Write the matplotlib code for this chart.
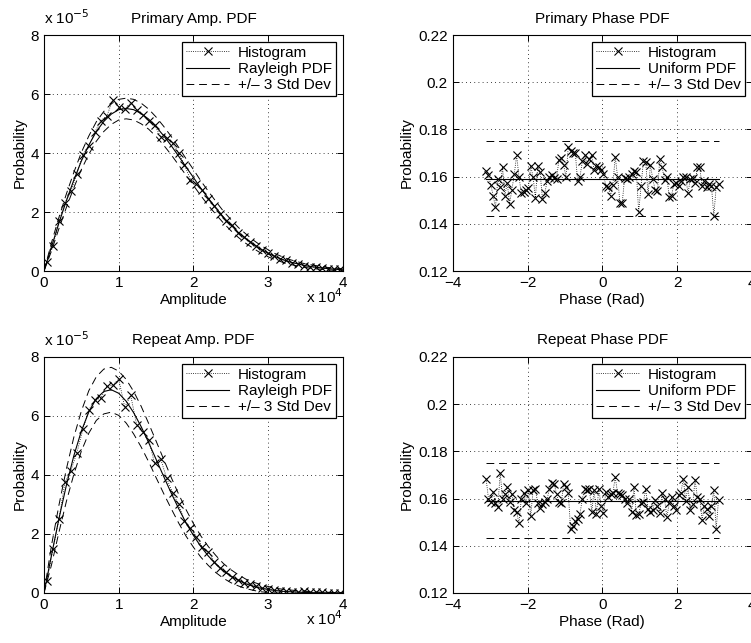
import matplotlib
matplotlib.use("Agg")
import matplotlib.pyplot as plt
import numpy as np

plt.rcParams['font.family'] = ['Liberation Sans', 'DejaVu Sans']
plt.rcParams['font.size'] = 10

# amplitude axis (units of 1e4), curve sample points
amp_x = [i / 10 for i in range(41)]
# histogram bin centres (units of 1e4)
amp_bins = [0.04 + 0.08 * i for i in range(50)]

# Primary amplitude (units of 1e-5)
prim_rayleigh = [0, 0.82, 1.63, 2.39, 3.09, 3.73, 4.27, 4.73, 5.07, 5.32, 5.47,
                 5.51, 5.47, 5.34, 5.15, 4.89, 4.59, 4.26, 3.90, 3.53, 3.17,
                 2.80, 2.46, 2.14, 1.83, 1.56, 1.31, 1.10, 0.91, 0.74, 0.60,
                 0.48, 0.38, 0.30, 0.24, 0.18, 0.14, 0.11, 0.08, 0.06, 0.04]
prim_band = [0, 0.14, 0.19, 0.23, 0.26, 0.29, 0.31, 0.33, 0.34, 0.35, 0.35,
             0.35, 0.35, 0.35, 0.34, 0.33, 0.32, 0.31, 0.30, 0.28, 0.27,
             0.25, 0.24, 0.22, 0.20, 0.19, 0.17, 0.16, 0.14, 0.13, 0.12,
             0.10, 0.09, 0.08, 0.07, 0.06, 0.06, 0.05, 0.04, 0.04, 0.03]
prim_hist = [0.30, 0.85, 1.70, 2.30, 2.70, 3.30, 3.95, 4.25, 4.70, 5.10,
             5.25, 5.80, 5.55, 5.50, 5.70, 5.45, 5.30, 5.10, 4.95, 4.55,
             4.50, 4.35, 4.00, 3.60, 3.10, 2.95, 2.75, 2.45, 2.20, 1.95,
             1.70, 1.55, 1.30, 1.15, 1.00, 0.85, 0.70, 0.60, 0.52, 0.42,
             0.36, 0.28, 0.25, 0.18, 0.15, 0.12, 0.10, 0.08, 0.06, 0.06]

# Repeat amplitude (units of 1e-5)
rep_rayleigh = [0, 1.28, 2.52, 3.66, 4.66, 5.49, 6.14, 6.59, 6.83, 6.89, 6.77,
                6.50, 6.11, 5.64, 5.10, 4.53, 3.96, 3.40, 2.87, 2.38, 1.95,
                1.57, 1.25, 0.98, 0.75, 0.57, 0.43, 0.31, 0.23, 0.16, 0.12,
                0.08, 0.055, 0.04, 0.025, 0.016, 0.01, 0.006, 0.004, 0.002, 0.001]
rep_band = [0, 0.33, 0.46, 0.55, 0.63, 0.68, 0.72, 0.74, 0.76, 0.76, 0.75,
            0.74, 0.72, 0.69, 0.65, 0.62, 0.58, 0.53, 0.49, 0.45, 0.40,
            0.36, 0.32, 0.29, 0.25, 0.22, 0.19, 0.16, 0.14, 0.12, 0.10,
            0.08, 0.07, 0.06, 0.05, 0.04, 0.03, 0.02, 0.02, 0.01, 0.01]
rep_hist = [0.40, 1.50, 2.50, 3.75, 4.15, 4.75, 5.55, 6.20, 6.55, 6.60,
            7.00, 7.05, 7.25, 6.30, 6.70, 5.70, 5.45, 5.20, 4.40, 4.55,
            3.90, 3.40, 3.00, 2.45, 2.20, 1.90, 1.55, 1.40, 1.05, 0.85,
            0.70, 0.55, 0.45, 0.35, 0.30, 0.22, 0.18, 0.12, 0.10, 0.06,
            0.05, 0.04, 0.03, 0.08, 0.03, 0.02, 0.02, 0.01, 0.01, 0.01]

# phase histograms (100 bins over -pi..pi)
phase_bins = [-np.pi + (k + 0.5) * 2 * np.pi / 100 for k in range(100)]
uniform_level = 0.159
std_upper = 0.175
std_lower = 0.1435

prim_phase = [0.1625, 0.1605, 0.1565, 0.1520, 0.1470, 0.1590, 0.1555, 0.1640, 0.1520, 0.1575,
              0.1485, 0.1545, 0.1610, 0.1690, 0.1600, 0.1530, 0.1535, 0.1545, 0.1550, 0.1645,
              0.1600, 0.1510, 0.1645, 0.1620, 0.1505, 0.1530, 0.1580, 0.1600, 0.1605, 0.1595,
              0.1590, 0.1670, 0.1680, 0.1650, 0.1600, 0.1725, 0.1710, 0.1700, 0.1700, 0.1580,
              0.1600, 0.1665, 0.1690, 0.1655, 0.1675, 0.1690, 0.1630, 0.1645, 0.1640, 0.1630,
              0.1610, 0.1560, 0.1555, 0.1520, 0.1565, 0.1685, 0.1600, 0.1490, 0.1490, 0.1595,
              0.1590, 0.1600, 0.1610, 0.1625, 0.1620, 0.1450, 0.1560, 0.1665, 0.1660, 0.1525,
              0.1650, 0.1590, 0.1545, 0.1540, 0.1675, 0.1640, 0.1585, 0.1600, 0.1515, 0.1520,
              0.1570, 0.1575, 0.1560, 0.1580, 0.1600, 0.1600, 0.1530, 0.1590, 0.1595, 0.1575,
              0.1640, 0.1640, 0.1560, 0.1580, 0.1555, 0.1570, 0.1560, 0.1435, 0.1555, 0.1570]

rep_phase = [0.1685, 0.1600, 0.1585, 0.1630, 0.1580, 0.1565, 0.1710, 0.1600, 0.1620, 0.1650,
             0.1585, 0.1620, 0.1550, 0.1545, 0.1495, 0.1600, 0.1625, 0.1580, 0.1635, 0.1525,
             0.1635, 0.1640, 0.1580, 0.1560, 0.1575, 0.1585, 0.1600, 0.1640, 0.1665, 0.1660,
             0.1620, 0.1585, 0.1580, 0.1660, 0.1650, 0.1625, 0.1470, 0.1485, 0.1505, 0.1515,
             0.1535, 0.1600, 0.1640, 0.1635, 0.1640, 0.1545, 0.1635, 0.1535, 0.1640, 0.1570,
             0.1540, 0.1630, 0.1605, 0.1620, 0.1625, 0.1690, 0.1625, 0.1620, 0.1615, 0.1600,
             0.1580, 0.1600, 0.1545, 0.1650, 0.1530, 0.1535, 0.1580, 0.1585, 0.1640, 0.1555,
             0.1545, 0.1550, 0.1595, 0.1570, 0.1540, 0.1625, 0.1600, 0.1520, 0.1580, 0.1605,
             0.1570, 0.1550, 0.1615, 0.1625, 0.1685, 0.1590, 0.1650, 0.1550, 0.1575, 0.1680,
             0.1605, 0.1600, 0.1510, 0.1570, 0.1555, 0.1525, 0.1570, 0.1635, 0.1470, 0.1595]

DASH = (0, (8, 5))
FS = 11


def style_axes(ax):
    ax.grid(True, color='black', linestyle=(0, (1, 4)), linewidth=0.6)
    ax.tick_params(direction='in', top=True, right=True, length=4, width=0.7, labelsize=FS)
    for s in ax.spines.values():
        s.set_linewidth(0.8)
    ax.set_ylabel('Probability', fontsize=FS, labelpad=3)


def legend(ax, pdf_name):
    leg = ax.legend(['Histogram', pdf_name, '+/\u2013 3 Std Dev'], loc='upper right',
                    fancybox=False, edgecolor='black', framealpha=1, fontsize=FS,
                    handlelength=2.8, borderpad=0.25, labelspacing=0.15,
                    handletextpad=0.6, borderaxespad=0.45)
    leg.get_frame().set_linewidth(0.9)


def amp_panel(ax, title, hist, pdf, band):
    x = np.array(amp_x)
    p = np.array(pdf)
    b = np.array(band)
    ax.plot(amp_bins, hist, ':x', color='black', lw=0.6, ms=6, mew=0.8)
    ax.plot(x, p, '-', color='black', lw=0.8)
    ax.plot(x, p + b, color='black', lw=0.7, linestyle=DASH)
    ax.plot(x, p - b, color='black', lw=0.7, linestyle=DASH)
    ax.set_xlim(0, 4)
    ax.set_ylim(0, 8)
    ax.set_xticks([0, 1, 2, 3, 4])
    ax.set_yticks([0, 2, 4, 6, 8])
    style_axes(ax)
    ax.set_xlabel('Amplitude', fontsize=FS, labelpad=2)
    ax.set_title(title, fontsize=FS, pad=9)
    ax.text(0, 1.035, r'x 10$^{-5}$', transform=ax.transAxes, fontsize=FS, ha='left', va='bottom')
    ax.text(1.0, -0.07, r'x 10$^{4}$', transform=ax.transAxes, fontsize=FS, ha='right', va='top')
    legend(ax, 'Rayleigh PDF')


def phase_panel(ax, title, hist):
    ax.plot(phase_bins, hist, ':x', color='black', lw=0.6, ms=6, mew=0.8)
    ends = [phase_bins[0], phase_bins[-1]]
    ax.plot(ends, [uniform_level] * 2, '-', color='black', lw=0.8)
    ax.plot(ends, [std_upper] * 2, color='black', lw=0.7, linestyle=DASH)
    ax.plot(ends, [std_lower] * 2, color='black', lw=0.7, linestyle=DASH)
    ax.set_xlim(-4, 4)
    ax.set_ylim(0.12, 0.22)
    ax.set_xticks([-4, -2, 0, 2, 4])
    ax.set_xticklabels(['\u22124', '\u22122', '0', '2', '4'])
    ax.set_yticks([0.12, 0.14, 0.16, 0.18, 0.2, 0.22])
    ax.set_yticklabels(['0.12', '0.14', '0.16', '0.18', '0.2', '0.22'])
    style_axes(ax)
    ax.set_xlabel('Phase (Rad)', fontsize=FS, labelpad=2)
    ax.set_title(title, fontsize=FS, pad=9)
    legend(ax, 'Uniform PDF')


fig = plt.figure(figsize=(7.51, 6.43), dpi=100)
W, H = 0.398, 0.367
ax1 = fig.add_axes([0.0586, 0.5785, W, H])
ax2 = fig.add_axes([0.603, 0.5785, W, H])
ax3 = fig.add_axes([0.0586, 0.0778, W, H])
ax4 = fig.add_axes([0.603, 0.0778, W, H])

amp_panel(ax1, 'Primary Amp. PDF', prim_hist, prim_rayleigh, prim_band)
phase_panel(ax2, 'Primary Phase PDF', prim_phase)
amp_panel(ax3, 'Repeat Amp. PDF', rep_hist, rep_rayleigh, rep_band)
phase_panel(ax4, 'Repeat Phase PDF', rep_phase)

fig.savefig('out.png', dpi=100)
